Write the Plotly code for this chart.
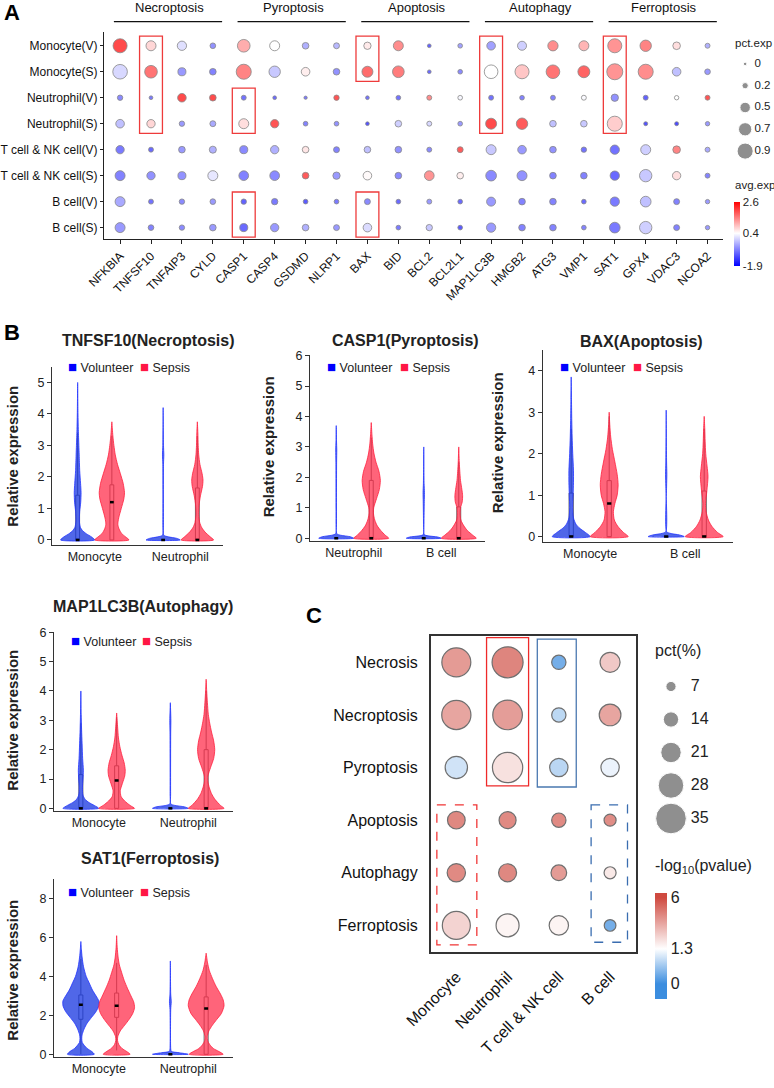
import numpy as np
import plotly.graph_objects as go

W, H = 774, 1088
FONT = "Arial, Liberation Sans, sans-serif"

# ---------------- Panel A data ----------------
genes = ["NFKBIA", "TNFSF10", "TNFAIP3", "CYLD", "CASP1", "CASP4", "GSDMD", "NLRP1",
         "BAX", "BID", "BCL2", "BCL2L1", "MAP1LC3B", "HMGB2", "ATG3", "VMP1",
         "SAT1", "GPX4", "VDAC3", "NCOA2"]
gene_groups = ["Necroptosis", "Pyroptosis", "Apoptosis", "Autophagy", "Ferroptosis"]
group_first = [0, 4, 8, 12, 16]
group_last = [3, 7, 11, 15, 19]
samples = ["Monocyte(V)", "Monocyte(S)", "Neutrophil(V)", "Neutrophil(S)",
           "T cell & NK cell(V)", "T cell & NK cell(S)", "B cell(V)", "B cell(S)"]

pct_mono_v = [0.79, 0.50, 0.45, 0.19, 0.69, 0.50, 0.26, 0.21, 0.31, 0.50, 0.05, 0.12, 0.40, 0.43, 0.52, 0.50, 0.79, 0.60, 0.33, 0.14]
pct_mono_s = [0.83, 0.69, 0.36, 0.26, 0.86, 0.60, 0.40, 0.26, 0.57, 0.62, 0.05, 0.12, 0.76, 0.79, 0.76, 0.64, 0.93, 0.86, 0.40, 0.19]
pct_neut_v = [0.17, 0.05, 0.40, 0.26, 0.14, 0.05, 0.02, 0.17, 0.05, 0.12, 0.14, 0.12, 0.14, 0.12, 0.14, 0.14, 0.31, 0.14, 0.10, 0.14]
pct_neut_s = [0.40, 0.38, 0.17, 0.21, 0.50, 0.38, 0.12, 0.12, 0.05, 0.26, 0.14, 0.12, 0.57, 0.60, 0.26, 0.26, 0.86, 0.07, 0.07, 0.10]
pct_tnk_v = [0.38, 0.14, 0.26, 0.29, 0.36, 0.38, 0.26, 0.21, 0.26, 0.26, 0.14, 0.21, 0.50, 0.40, 0.26, 0.17, 0.45, 0.50, 0.33, 0.14]
pct_tnk_s = [0.50, 0.38, 0.36, 0.50, 0.48, 0.48, 0.26, 0.31, 0.40, 0.26, 0.48, 0.26, 0.55, 0.50, 0.26, 0.26, 0.45, 0.67, 0.38, 0.14]
pct_b_v = [0.50, 0.14, 0.17, 0.19, 0.17, 0.24, 0.12, 0.12, 0.21, 0.12, 0.14, 0.12, 0.43, 0.26, 0.26, 0.12, 0.45, 0.55, 0.21, 0.10]
pct_b_s = [0.50, 0.19, 0.17, 0.26, 0.36, 0.38, 0.26, 0.21, 0.40, 0.12, 0.24, 0.12, 0.45, 0.26, 0.26, 0.12, 0.55, 0.67, 0.21, 0.10]

avg_mono_v = [2.6, 0.9, 0.0, -1.0, 1.4, 0.4, -0.6, -0.5, 0.65, 1.8, -1.6, -0.8, -0.8, -0.2, 1.8, 1.3, 1.7, 1.9, 0.8, -0.6]
avg_mono_s = [-0.1, 2.1, -0.9, -1.2, 1.9, -0.3, 0.6, -1.0, 2.2, 2.0, -1.5, -1.1, 0.4, 1.1, 2.1, 2.3, 1.7, 1.8, -0.4, -0.9]
avg_neut_v = [-1.1, -1.3, 2.6, 2.6, -1.4, -1.5, -1.3, 2.5, -1.4, -1.4, 1.8, 0.3, -1.4, -1.2, -1.2, 0.35, -1.0, -1.6, 0.4, 2.5]
avg_neut_s = [-0.4, 0.9, -0.9, -0.7, 0.8, 2.5, -1.2, -1.0, -1.8, -0.2, -0.1, -0.9, 2.6, 2.4, -0.4, -0.3, 1.0, -1.8, -1.9, -0.9]
avg_tnk_v = [-1.3, -1.5, -0.9, -0.6, -1.1, -0.6, 0.7, -1.2, -0.4, -1.0, -1.1, 2.4, -0.3, -0.9, -1.0, -1.4, -1.4, -0.2, 1.9, -0.7]
avg_tnk_s = [-1.2, -1.0, -1.0, 0.1, -1.2, -1.1, 2.4, -0.9, 0.45, -1.1, 1.7, 0.6, -1.1, -1.0, -1.2, -1.2, -1.5, -0.3, 0.8, -1.2]
avg_b_v = [-0.7, -1.4, -1.1, -0.9, -1.6, -1.3, -1.7, -1.3, -1.1, -1.5, -0.9, -1.5, -0.9, -1.2, -1.2, -1.5, -1.3, -0.4, -1.2, -0.9]
avg_b_s = [-0.9, -1.2, -1.1, -0.9, -1.5, -0.9, -0.6, -0.9, -0.05, -1.3, -0.3, -1.7, -0.9, -1.2, -1.2, -1.2, -1.3, -0.2, -1.2, -0.9]

highlight_gene = [1, 4, 4, 8, 8, 12, 16]
highlight_row0 = [0, 2, 6, 0, 6, 0, 0]
highlight_row1 = [3, 3, 7, 1, 7, 3, 3]

pct_legend = [0, 0.2, 0.5, 0.7, 0.9]
pct_legend_text = ["0", "0.2", "0.5", "0.7", "0.9"]
avg_ticks = [-1.9, 0.4, 2.6]

# ---------------- Panel B data (violin outlines: (expression, relative half-width)) ----------------
tnf_mono_v = [(0, 1.0), (0.1, 0.8), (0.2, 0.5), (0.3, 0.28), (0.4, 0.16), (0.6, 0.1), (0.9, 0.12), (1.2, 0.18), (1.5, 0.2), (1.8, 0.17), (2.2, 0.12), (2.7, 0.09), (3.0, 0.07), (3.5, 0.04), (4.0, 0.02), (5.0, 0.0)]
tnf_mono_s = [(0, 1.0), (0.1, 0.8), (0.2, 0.58), (0.35, 0.42), (0.5, 0.35), (0.7, 0.4), (1.0, 0.55), (1.3, 0.7), (1.5, 0.74), (1.8, 0.66), (2.1, 0.5), (2.4, 0.33), (2.7, 0.2), (3.0, 0.12), (3.3, 0.06), (3.75, 0.0)]
tnf_neut_v = [(0, 1.0), (0.05, 0.8), (0.1, 0.3), (0.15, 0.04), (0.5, 0.02), (2.4, 0.02), (2.7, 0.04), (3.0, 0.02), (4.2, 0.0)]
tnf_neut_s = [(0, 0.95), (0.1, 0.75), (0.25, 0.45), (0.4, 0.25), (0.55, 0.14), (0.8, 0.08), (1.1, 0.1), (1.4, 0.18), (1.7, 0.3), (1.9, 0.33), (2.1, 0.28), (2.4, 0.15), (2.7, 0.08), (3.0, 0.05), (3.4, 0.03), (3.75, 0.0)]
tnf_box = [[0, 0, 1.42, 0, 3.4], [0, 1.2, 1.75, 0, 3.3], [0, 0, 0, 0, 0], [0, 0, 1.65, 0, 3.3]]

casp_neut_v = [(0, 1.0), (0.05, 0.8), (0.1, 0.25), (0.15, 0.03), (0.5, 0.015), (2.5, 0.02), (2.9, 0.03), (3.2, 0.015), (3.7, 0.0)]
casp_neut_s = [(0, 1.0), (0.1, 0.8), (0.25, 0.55), (0.4, 0.35), (0.6, 0.2), (0.8, 0.13), (1.0, 0.14), (1.3, 0.3), (1.6, 0.46), (1.9, 0.52), (2.2, 0.44), (2.5, 0.27), (2.8, 0.15), (3.1, 0.08), (3.4, 0.04), (3.8, 0.0)]
casp_b_v = [(0, 1.0), (0.04, 0.8), (0.08, 0.25), (0.12, 0.03), (0.5, 0.015), (1.2, 0.03), (1.5, 0.04), (1.8, 0.02), (3.0, 0.0)]
casp_b_s = [(0, 1.0), (0.1, 0.8), (0.25, 0.5), (0.4, 0.3), (0.6, 0.12), (0.8, 0.08), (1.0, 0.1), (1.2, 0.2), (1.4, 0.22), (1.6, 0.18), (1.9, 0.1), (2.2, 0.06), (2.5, 0.03), (3.0, 0.0)]
casp_box = [[0, 0, 0, 0, 0], [0, 0, 1.9, 0, 3.3], [0, 0, 0, 0, 0], [0, 0, 1.03, 0, 2.5]]

bax_mono_v = [(0, 1.0), (0.1, 0.75), (0.2, 0.45), (0.3, 0.25), (0.45, 0.12), (0.7, 0.08), (1.0, 0.1), (1.3, 0.12), (1.6, 0.12), (2.0, 0.08), (2.4, 0.05), (2.8, 0.03), (3.3, 0.015), (3.85, 0.0)]
bax_mono_s = [(0, 1.0), (0.1, 0.75), (0.25, 0.45), (0.4, 0.27), (0.6, 0.22), (0.8, 0.3), (1.0, 0.42), (1.25, 0.47), (1.5, 0.42), (1.8, 0.3), (2.1, 0.17), (2.4, 0.08), (2.7, 0.03), (3.0, 0.0)]
bax_b_v = [(0, 0.95), (0.04, 0.7), (0.08, 0.2), (0.12, 0.02), (1.2, 0.02), (1.5, 0.035), (1.8, 0.02), (3.05, 0.0)]
bax_b_s = [(0, 1.0), (0.1, 0.7), (0.25, 0.4), (0.4, 0.22), (0.6, 0.1), (0.8, 0.07), (1.1, 0.14), (1.45, 0.2), (1.7, 0.15), (2.0, 0.08), (2.3, 0.05), (2.6, 0.03), (2.9, 0.0)]
bax_box = [[0, 0, 1.05, 0, 2.6], [0, 0.8, 1.35, 0, 2.9], [0, 0, 0, 0, 0], [0, 0, 1.1, 0, 2.6]]

lc3_mono_v = [(0, 1.0), (0.1, 0.75), (0.2, 0.45), (0.3, 0.25), (0.45, 0.12), (0.7, 0.09), (1.0, 0.12), (1.3, 0.14), (1.7, 0.1), (2.2, 0.07), (2.7, 0.04), (3.2, 0.02), (4.0, 0.0)]
lc3_mono_s = [(0, 1.0), (0.1, 0.75), (0.25, 0.45), (0.4, 0.25), (0.6, 0.2), (0.85, 0.32), (1.1, 0.45), (1.3, 0.48), (1.55, 0.42), (1.8, 0.3), (2.1, 0.18), (2.4, 0.1), (2.8, 0.05), (3.25, 0.0)]
lc3_neut_v = [(0, 1.0), (0.05, 0.8), (0.1, 0.25), (0.15, 0.03), (0.5, 0.015), (2.6, 0.02), (3.0, 0.03), (3.6, 0.0)]
lc3_neut_s = [(0, 1.0), (0.1, 0.8), (0.3, 0.5), (0.5, 0.3), (0.7, 0.18), (0.9, 0.1), (1.1, 0.1), (1.4, 0.25), (1.7, 0.42), (2.0, 0.48), (2.3, 0.42), (2.6, 0.3), (2.9, 0.2), (3.2, 0.12), (3.6, 0.07), (4.0, 0.03), (4.4, 0.0)]
lc3_box = [[0, 0, 1.15, 0, 2.9], [0, 0.95, 1.45, 0, 3.1], [0, 0, 0, 0, 0], [0, 0, 2.0, 0, 4.0]]

sat_mono_v = [(0, 0.75), (0.15, 0.6), (0.3, 0.35), (0.45, 0.2), (0.6, 0.08), (0.8, 0.05), (1.0, 0.07), (1.3, 0.18), (1.6, 0.35), (1.9, 0.6), (2.2, 0.85), (2.5, 1.0), (2.75, 1.0), (3.0, 0.85), (3.3, 0.65), (3.7, 0.45), (4.0, 0.3), (4.5, 0.15), (5.0, 0.07), (5.4, 0.03), (5.8, 0.0)]
sat_mono_s = [(0, 0.75), (0.15, 0.55), (0.3, 0.3), (0.5, 0.12), (0.7, 0.05), (0.9, 0.06), (1.2, 0.2), (1.5, 0.45), (1.8, 0.7), (2.1, 0.9), (2.4, 1.0), (2.7, 0.95), (3.0, 0.8), (3.4, 0.6), (3.8, 0.42), (4.2, 0.28), (4.6, 0.15), (5.0, 0.08), (5.5, 0.03), (6.1, 0.0)]
sat_neut_v = [(0, 1.0), (0.08, 0.5), (0.15, 0.05), (0.3, 0.02), (2.3, 0.02), (2.7, 0.05), (3.1, 0.02), (4.8, 0.0)]
sat_neut_s = [(0, 0.95), (0.15, 0.7), (0.3, 0.4), (0.5, 0.2), (0.7, 0.08), (0.9, 0.06), (1.2, 0.15), (1.5, 0.35), (1.8, 0.6), (2.1, 0.85), (2.5, 1.0), (2.8, 0.95), (3.1, 0.8), (3.5, 0.55), (3.9, 0.35), (4.3, 0.18), (4.7, 0.08), (5.2, 0.0)]
sat_box = [[1.8, 2.55, 3.05, 0.0, 4.9], [1.9, 2.5, 3.15, 0.2, 4.7], [0, 0, 0, 0, 0], [0, 2.35, 2.95, 0, 4.6]]

conditions = ["Volunteer", "Sepsis"]

# ---------------- Panel C data ----------------
processes = ["Necrosis", "Necroptosis", "Pyroptosis", "Apoptosis", "Autophagy", "Ferroptosis"]
cells_c = ["Monocyte", "Neutrophil", "T cell & NK cell", "B cell"]
pct_necrosis = [32.7, 35.5, 12.6, 20.4]
pct_necroptosis = [33.0, 33.6, 12.6, 22.7]
pct_pyroptosis = [23.6, 34.5, 18.1, 18.1]
pct_apoptosis = [17.2, 16.3, 12.6, 9.5]
pct_autophagy = [18.1, 17.7, 14.5, 9.5]
pct_ferroptosis = [31.4, 24.5, 19.5, 9.0]
logp_necrosis = [5.0, 5.8, 0.0, 3.3]
logp_necroptosis = [4.6, 4.9, 0.67, 4.6]
logp_pyroptosis = [0.86, 2.4, 0.65, 1.12]
logp_apoptosis = [5.7, 5.6, 5.6, 5.5]
logp_autophagy = [5.6, 5.7, 5.0, 2.1]
logp_ferroptosis = [2.9, 1.7, 1.7, 0.0]
pct_c_legend = [7, 14, 21, 28, 35]
logp_ticks = [0, 1.3, 6]

# ---------------- helpers ----------------
def dx(p0, p1):
    return [p0 / W, p1 / W]

def dy(top, bottom):
    return [1 - bottom / H, 1 - top / H]

def X(p):
    return p / W

def Y(p):
    return 1 - p / H

fig = go.Figure()
annotations = []
shapes = []
layout = {}

# ================= Panel A =================
pct_rows = [pct_mono_v, pct_mono_s, pct_neut_v, pct_neut_s, pct_tnk_v, pct_tnk_s, pct_b_v, pct_b_s]
avg_rows = [avg_mono_v, avg_mono_s, avg_neut_v, avg_neut_s, avg_tnk_v, avg_tnk_s, avg_b_v, avg_b_s]
ax_, ay_, asz, acol = [], [], [], []
for ri, (pr, ar) in enumerate(zip(pct_rows, avg_rows)):
    for gi in range(len(genes)):
        ax_.append(gi)
        ay_.append(ri)
        asz.append(3 + 14 * pr[gi])
        acol.append(ar[gi])

a_cmin, a_cmax = -1.9, 2.6
a_mid = (0.4 - a_cmin) / (a_cmax - a_cmin)
fig.add_trace(go.Scatter(
    x=ax_, y=ay_, mode="markers", xaxis="x", yaxis="y", showlegend=False,
    marker=dict(size=asz, color=acol, cmin=a_cmin, cmax=a_cmax,
                colorscale=[[0, "#0000ff"], [a_mid, "#ffffff"], [1, "#ff0000"]],
                line=dict(color="#555555", width=0.8),
                showscale=True,
                colorbar=dict(x=X(734), xanchor="left", xpad=0, y=Y(234), yanchor="middle", ypad=0,
                              len=64, lenmode="pixels", thickness=6, thicknessmode="pixels",
                              tickvals=avg_ticks, ticktext=[str(v) for v in avg_ticks], ticks="",
                              tickfont=dict(size=11.5, color="#222"), outlinewidth=0)),
))
layout["xaxis"] = dict(domain=dx(104, 723), range=[-0.52, 19.5], tickmode="array",
                       tickvals=list(range(len(genes))), ticktext=genes, tickangle=-45,
                       ticks="outside", ticklen=4, tickcolor="#222", showline=True,
                       linecolor="#222", linewidth=1, showgrid=False, zeroline=False,
                       tickfont=dict(size=12, color="#111"), anchor="y")
layout["yaxis"] = dict(domain=dy(32, 239.3), range=[7.45, -0.53], tickmode="array",
                       tickvals=list(range(len(samples))), ticktext=samples,
                       ticks="outside", ticklen=3, tickcolor="#222", showline=True,
                       linecolor="#222", linewidth=1, showgrid=False, zeroline=False,
                       tickfont=dict(size=12, color="#111"), anchor="x")

# group headers
for name, f, l in zip(gene_groups, group_first, group_last):
    shapes.append(dict(type="line", xref="x", yref="paper", x0=f - 0.2, x1=l + 0.3,
                       y0=Y(21.7), y1=Y(21.7), line=dict(color="#111", width=1.3)))
    annotations.append(dict(x=(f + l) / 2 + 0.1, y=Y(8), xref="x", yref="paper", text=name,
                            showarrow=False, font=dict(size=13, color="#111"),
                            xanchor="center", yanchor="middle"))
# highlight boxes
for g, r0, r1 in zip(highlight_gene, highlight_row0, highlight_row1):
    shapes.append(dict(type="rect", xref="x", yref="y", x0=g - 0.37, x1=g + 0.37,
                       y0=r0 - 0.37, y1=r1 + 0.37, line=dict(color="#ee3b3b", width=1.3)))

# size legend A
layout["xaxis2"] = dict(domain=dx(735, 774), range=[0, 1], visible=False, anchor="y2")
layout["yaxis2"] = dict(domain=dy(53, 162), range=[4.5, -0.5], visible=False, anchor="x2")
fig.add_trace(go.Scatter(x=[0.26] * len(pct_legend), y=list(range(len(pct_legend))),
                         mode="markers", xaxis="x2", yaxis="y2", showlegend=False,
                         marker=dict(size=[3.5 + 14 * v for v in pct_legend], color="#616161")))
fig.add_trace(go.Scatter(x=[0.5] * len(pct_legend), y=list(range(len(pct_legend))),
                         mode="text", text=pct_legend_text, textposition="middle right",
                         xaxis="x2", yaxis="y2", showlegend=False,
                         textfont=dict(size=11.5, color="#222")))
annotations.append(dict(x=X(733), y=Y(43), xref="paper", yref="paper", text="pct.exp",
                        showarrow=False, xanchor="left", yanchor="middle",
                        font=dict(size=11.5, color="#222")))
annotations.append(dict(x=X(733), y=Y(185), xref="paper", yref="paper", text="avg.exp",
                        showarrow=False, xanchor="left", yanchor="middle",
                        font=dict(size=11.5, color="#222")))

# ================= Panel B =================
VOL_LINE, VOL_FILL = "#2233ff", "rgba(25,55,225,0.76)"
SEP_LINE, SEP_FILL = "#ff1f3d", "rgba(255,40,70,0.72)"
VW = 0.2
b_panels = [
    dict(title="TNFSF10(Necroptosis)", cats=["Monocyte", "Neutrophil"],
         vio=[tnf_mono_v, tnf_mono_s, tnf_neut_v, tnf_neut_s], box=tnf_box,
         xd=(52, 223), yd=(367, 545), yr=(-0.16, 5.49), dt=1,
         tpos=(148, 340), ypos=(11.7, 456), leg=(70.7, 143.3, 366)),
    dict(title="CASP1(Pyroptosis)", cats=["Neutrophil", "B cell"],
         vio=[casp_neut_v, casp_neut_s, casp_b_v, casp_b_s], box=casp_box,
         xd=(310, 485), yd=(355, 541), yr=(-0.09, 6.02), dt=1,
         tpos=(405, 340), ypos=(268.3, 447), leg=(330, 402.7, 366)),
    dict(title="BAX(Apoptosis)", cats=["Monocyte", "B cell"],
         vio=[bax_mono_v, bax_mono_s, bax_b_v, bax_b_s], box=bax_box,
         xd=(542.7, 732.7), yd=(350, 542), yr=(-0.13, 4.5), dt=1,
         tpos=(641.7, 341.7), ypos=(497.3, 443), leg=(562.7, 636, 366)),
    dict(title="MAP1LC3B(Autophagy)", cats=["Monocyte", "Neutrophil"],
         vio=[lc3_mono_v, lc3_mono_s, lc3_neut_v, lc3_neut_s], box=lc3_box,
         xd=(54, 233), yd=(631.7, 811), yr=(-0.09, 6.02), dt=1,
         tpos=(143.3, 606.7), ypos=(11.7, 720), leg=(74, 145, 640)),
    dict(title="SAT1(Ferroptosis)", cats=["Monocyte", "Neutrophil"],
         vio=[sat_mono_v, sat_mono_s, sat_neut_v, sat_neut_s], box=sat_box,
         xd=(54, 233), yd=(879.3, 1057), yr=(-0.14, 9.0), dt=2,
         tpos=(150, 858.3), ypos=(11.7, 970), leg=(70.7, 143.3, 891.7)),
]
positions = [0 - VW, 0 + VW, 1 - VW, 1 + VW]
for k, p in enumerate(b_panels):
    n = k + 3
    xa, ya = f"x{n}", f"y{n}"
    layout[f"xaxis{n}"] = dict(domain=dx(*p["xd"]), range=[-0.5, 1.5], tickmode="array",
                               tickvals=[0, 1], ticktext=p["cats"], ticks="", showline=True,
                               linecolor="#333", linewidth=1, showgrid=False, zeroline=False,
                               tickfont=dict(size=12.5, color="#222"), anchor=ya)
    layout[f"yaxis{n}"] = dict(domain=dy(*p["yd"]), range=list(p["yr"]), tick0=0, dtick=p["dt"],
                               ticks="outside", ticklen=4, tickcolor="#333", showline=True,
                               linecolor="#333", linewidth=1, showgrid=False, zeroline=False,
                               tickfont=dict(size=12.5, color="#222"), anchor=xa)
    for j, (prof, pos) in enumerate(zip(p["vio"], positions)):
        vol = (j % 2 == 0)
        ys = [a for a, b in prof]
        ws = [b for a, b in prof]
        xs = [pos + w * VW for w in ws] + [pos - w * VW for w in ws[::-1]] + [pos + ws[0] * VW]
        yy = ys + ys[::-1] + [ys[0]]
        fig.add_trace(go.Scatter(x=xs, y=yy, mode="lines", fill="toself",
                                 fillcolor=VOL_FILL if vol else SEP_FILL,
                                 line=dict(color=VOL_LINE if vol else SEP_LINE, width=0.8,
                                           shape="spline", smoothing=0.7),
                                 xaxis=xa, yaxis=ya, showlegend=False, hoverinfo="skip"))
    for j, (st, pos) in enumerate(zip(p["box"], positions)):
        q1, med, q3, lo, hi = st
        fig.add_trace(go.Box(x=[pos], q1=[q1], median=[med], q3=[q3], lowerfence=[lo],
                             upperfence=[hi], width=0.045, whiskerwidth=0,
                             line=dict(color="#666666", width=1), fillcolor="rgba(0,0,0,0)",
                             xaxis=xa, yaxis=ya, showlegend=False, hoverinfo="skip"))
        fig.add_trace(go.Scatter(x=[pos - 0.022, pos + 0.022], y=[med, med], mode="lines",
                                 line=dict(color="#000", width=2.5), xaxis=xa, yaxis=ya,
                                 showlegend=False, hoverinfo="skip"))
    annotations.append(dict(x=X(p["tpos"][0]), y=Y(p["tpos"][1]), xref="paper", yref="paper",
                            text=f"<b>{p['title']}</b>", showarrow=False, xanchor="center",
                            yanchor="middle", font=dict(size=16, color="#222")))
    annotations.append(dict(x=X(p["ypos"][0]), y=Y(p["ypos"][1]), xref="paper", yref="paper",
                            text="<b>Relative expression</b>", showarrow=False, textangle=-90,
                            xanchor="center", yanchor="middle", font=dict(size=15, color="#222")))
    lx1, lx2, lyy = p["leg"]
    annotations.append(dict(x=X(lx1 - 5), y=Y(lyy), xref="paper", yref="paper",
                            text=f'<span style="color:#0000ff;font-size:15px">■</span> {conditions[0]}',
                            showarrow=False, xanchor="left", yanchor="middle",
                            font=dict(size=12.5, color="#222")))
    annotations.append(dict(x=X(lx2 - 5), y=Y(lyy), xref="paper", yref="paper",
                            text=f'<span style="color:#ff1744;font-size:15px">■</span> {conditions[1]}',
                            showarrow=False, xanchor="left", yanchor="middle",
                            font=dict(size=12.5, color="#222")))

# ================= Panel C =================
pct_c_rows = [pct_necrosis, pct_necroptosis, pct_pyroptosis, pct_apoptosis, pct_autophagy, pct_ferroptosis]
logp_c_rows = [logp_necrosis, logp_necroptosis, logp_pyroptosis, logp_apoptosis, logp_autophagy, logp_ferroptosis]
bar_pos = [0.142, 0.473, 0.956]   # where 0, 1.3 and 6 sit on the colour bar

def to_bar(v):
    return float(np.interp(v, logp_ticks, bar_pos))

cx, cy, csz, ccol = [], [], [], []
for ri, (pr, lr) in enumerate(zip(pct_c_rows, logp_c_rows)):
    for ci in range(len(cells_c)):
        cx.append(ci)
        cy.append(ri)
        csz.append(5.1 + 0.73 * pr[ci])
        ccol.append(to_bar(lr[ci]))
c_scale = [[0, "#3b8ddf"], [bar_pos[0], "#3b8ddf"], [bar_pos[1], "#ffffff"],
           [bar_pos[2], "#cf4a40"], [1, "#cf4a40"]]
fig.add_trace(go.Scatter(
    x=cx, y=cy, mode="markers", xaxis="x8", yaxis="y8", showlegend=False,
    marker=dict(size=csz, color=ccol, cmin=0, cmax=1, colorscale=c_scale,
                line=dict(color="#333333", width=1.2), showscale=True,
                colorbar=dict(x=X(655), xanchor="left", xpad=0, y=Y(945.5), yanchor="middle",
                              ypad=0, len=105.6, lenmode="pixels", thickness=12,
                              thicknessmode="pixels", tickvals=[to_bar(v) for v in logp_ticks],
                              ticktext=[str(v) for v in logp_ticks], ticks="",
                              tickfont=dict(size=16, color="#222"), outlinewidth=0)),
))
layout["xaxis8"] = dict(domain=dx(430.7, 635.7), range=[-0.5, 3.5], tickmode="array",
                        tickvals=list(range(len(cells_c))), ticktext=cells_c, tickangle=-45,
                        ticks="outside", ticklen=8, tickcolor="rgba(0,0,0,0)", showline=True,
                        mirror=True, linecolor="#333", linewidth=1.5, showgrid=False,
                        zeroline=False, tickfont=dict(size=16, color="#111"), anchor="y8")
layout["yaxis8"] = dict(domain=dy(636, 951.7), range=[5.5, -0.5], tickmode="array",
                        tickvals=list(range(len(processes))), ticktext=processes,
                        ticks="outside", ticklen=8, tickcolor="rgba(0,0,0,0)", showline=True,
                        mirror=True, linecolor="#333", linewidth=1.5, showgrid=False,
                        zeroline=False, tickfont=dict(size=16, color="#111"), anchor="x8")
c_boxes = [  # column, first row, last row, top pad, bottom pad, left pad, right pad, colour, dash
    (1, 0, 2, 0.47, 0.35, 0.41, 0.41, "#ee2a2a", "solid"),
    (2, 0, 2, 0.44, 0.37, 0.42, 0.34, "#4a78b0", "solid"),
    (0, 3, 5, 0.29, 0.37, 0.38, 0.40, "#f03535", "dash"),
    (3, 3, 5, 0.29, 0.32, 0.37, 0.34, "#3a6db0", "dash"),
]
for c, r0, r1, pt, pb, pl, pr_, col, dash in c_boxes:
    shapes.append(dict(type="rect", xref="x8", yref="y8", x0=c - pl, x1=c + pr_,
                       y0=r0 - pt, y1=r1 + pb, line=dict(color=col, width=1.3, dash=dash)))

layout["xaxis9"] = dict(domain=dx(655, 720), range=[0, 1], visible=False, anchor="y9")
layout["yaxis9"] = dict(domain=dy(670, 835), range=[4.5, -0.5], visible=False, anchor="x9")
fig.add_trace(go.Scatter(x=[0.246] * len(pct_c_legend), y=list(range(len(pct_c_legend))),
                         mode="markers", xaxis="x9", yaxis="y9", showlegend=False,
                         marker=dict(size=[5.1 + 0.73 * v for v in pct_c_legend], color="#616161")))
fig.add_trace(go.Scatter(x=[0.55] * len(pct_c_legend), y=list(range(len(pct_c_legend))),
                         mode="text", text=[str(v) for v in pct_c_legend],
                         textposition="middle right", xaxis="x9", yaxis="y9", showlegend=False,
                         textfont=dict(size=16, color="#222")))
annotations.append(dict(x=X(653), y=Y(650), xref="paper", yref="paper", text="pct(%)",
                        showarrow=False, xanchor="left", yanchor="middle",
                        font=dict(size=16, color="#222")))
annotations.append(dict(x=X(653), y=Y(866.7), xref="paper", yref="paper",
                        text="-log<sub>10</sub>(pvalue)", showarrow=False, xanchor="left",
                        yanchor="middle", font=dict(size=16, color="#222")))

# panel letters
for letter, (px_, py_) in zip(["A", "B", "C"], [(11.5, 12.5), (11.5, 332.5), (313.5, 615)]):
    annotations.append(dict(x=X(px_), y=Y(py_), xref="paper", yref="paper",
                            text=f"<b>{letter}</b>", showarrow=False, xanchor="center",
                            yanchor="middle", font=dict(size=22, color="#000")))

fig.update_layout(
    template="none", width=W, height=H, margin=dict(l=0, r=0, t=0, b=0),
    paper_bgcolor="white", plot_bgcolor="rgba(0,0,0,0)",
    font=dict(family=FONT, color="#222"), showlegend=False, boxmode="overlay",
    annotations=annotations, shapes=shapes, **layout)

fig.write_html("out.html", config={"displayModeBar": False},
               post_script="document.body.style.margin='0';")
